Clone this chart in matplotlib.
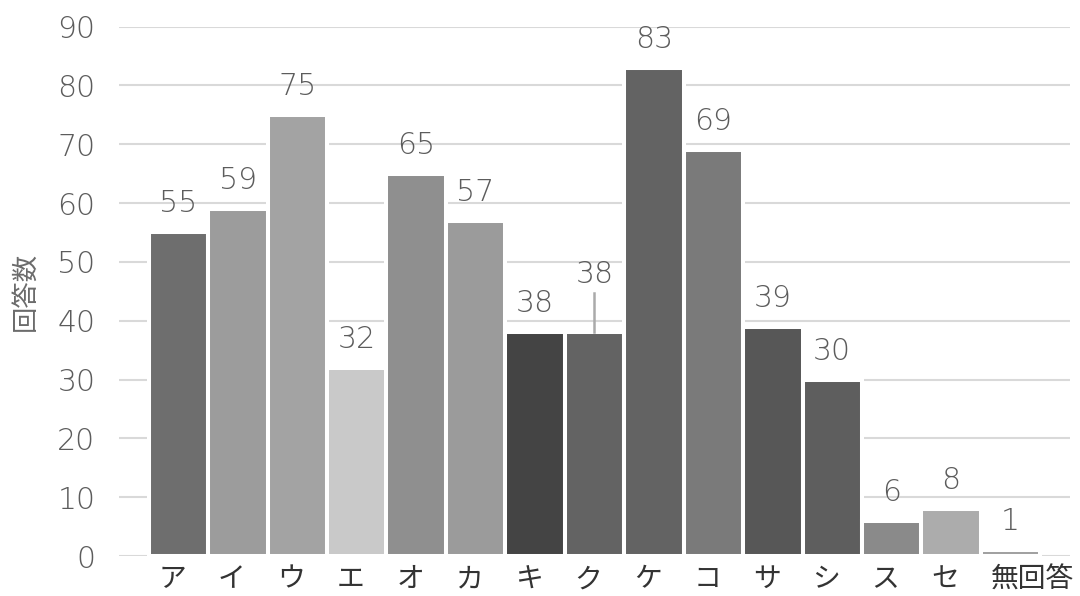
import numpy as np
import matplotlib.pyplot as plt
from matplotlib.transforms import ScaledTranslation

plt.rcParams['font.family'] = ['Noto Sans CJK JP', 'DejaVu Sans']

labels = ['ア', 'イ', 'ウ', 'エ', 'オ', 'カ', 'キ', 'ク', 'ケ', 'コ', 'サ', 'シ', 'ス', 'セ', '無回答']
counts = [55, 59, 75, 32, 65, 57, 38, 38, 83, 69, 39, 30, 6, 8, 1]
colors = ['#6e6e6e', '#9c9c9c', '#a3a3a3', '#c9c9c9', '#8f8f8f', '#9b9b9b', '#444444',
          '#636363', '#636363', '#7a7a7a', '#575757', '#5e5e5e', '#8a8a8a', '#acacac', '#a0a0a0']
yticks = [0, 10, 20, 30, 40, 50, 60, 70, 80, 90]

num_font = dict(family='DejaVu Sans', weight='light', size=21.5)
num_color = '#5c5c5c'

fig = plt.figure(figsize=(10.8, 5.96), dpi=100)
ax = fig.add_axes([0.1102, 0.0671, 0.8805, 0.8884])

x = np.arange(len(labels))
ax.bar(x, counts, width=1.0, color=colors, edgecolor='white', linewidth=2.9, zorder=2)

ax.set_xlim(-1, 15)
ax.set_ylim(0, 90)
ax.set_yticks(yticks)
ax.set_yticklabels([str(t) for t in yticks], fontdict=num_font)
ax.grid(axis='y', color='#d9d9d9', linewidth=1.5, zorder=0)
ax.set_axisbelow(True)
for s in ax.spines.values():
    s.set_visible(False)
ax.tick_params(axis='y', length=0, pad=17, labelcolor=num_color)
ax.tick_params(axis='x', length=0, pad=6, labelsize=20, labelcolor='#333333')

# category labels sit left-aligned a little left of each bar centre
ax.set_xticks(x)
ax.set_xticklabels(labels)
shift = ScaledTranslation(-20 / 100, 0, fig.dpi_scale_trans)
for t in ax.get_xticklabels():
    t.set_horizontalalignment('left')
    t.set_transform(t.get_transform() + shift)

ax.set_ylabel('回答数', fontsize=19, color='#6b6b6b')
ax.yaxis.set_label_coords(-0.085, 0.5)

# value labels; ク is lifted with a leader line so it clears キ
for i, v in enumerate(counts):
    lift = 42 if labels[i] == 'ク' else 20.5
    ax.annotate(str(v), (i, v), xytext=(0, lift), textcoords='offset points',
                ha='center', va='center', color=num_color, **num_font)
    if labels[i] == 'ク':
        ax.plot([i, i], [v, v + 39 / 5.883], color='#aaaaaa', linewidth=1.8,
                zorder=3, clip_on=False)

plt.savefig('out.png', dpi=100)
